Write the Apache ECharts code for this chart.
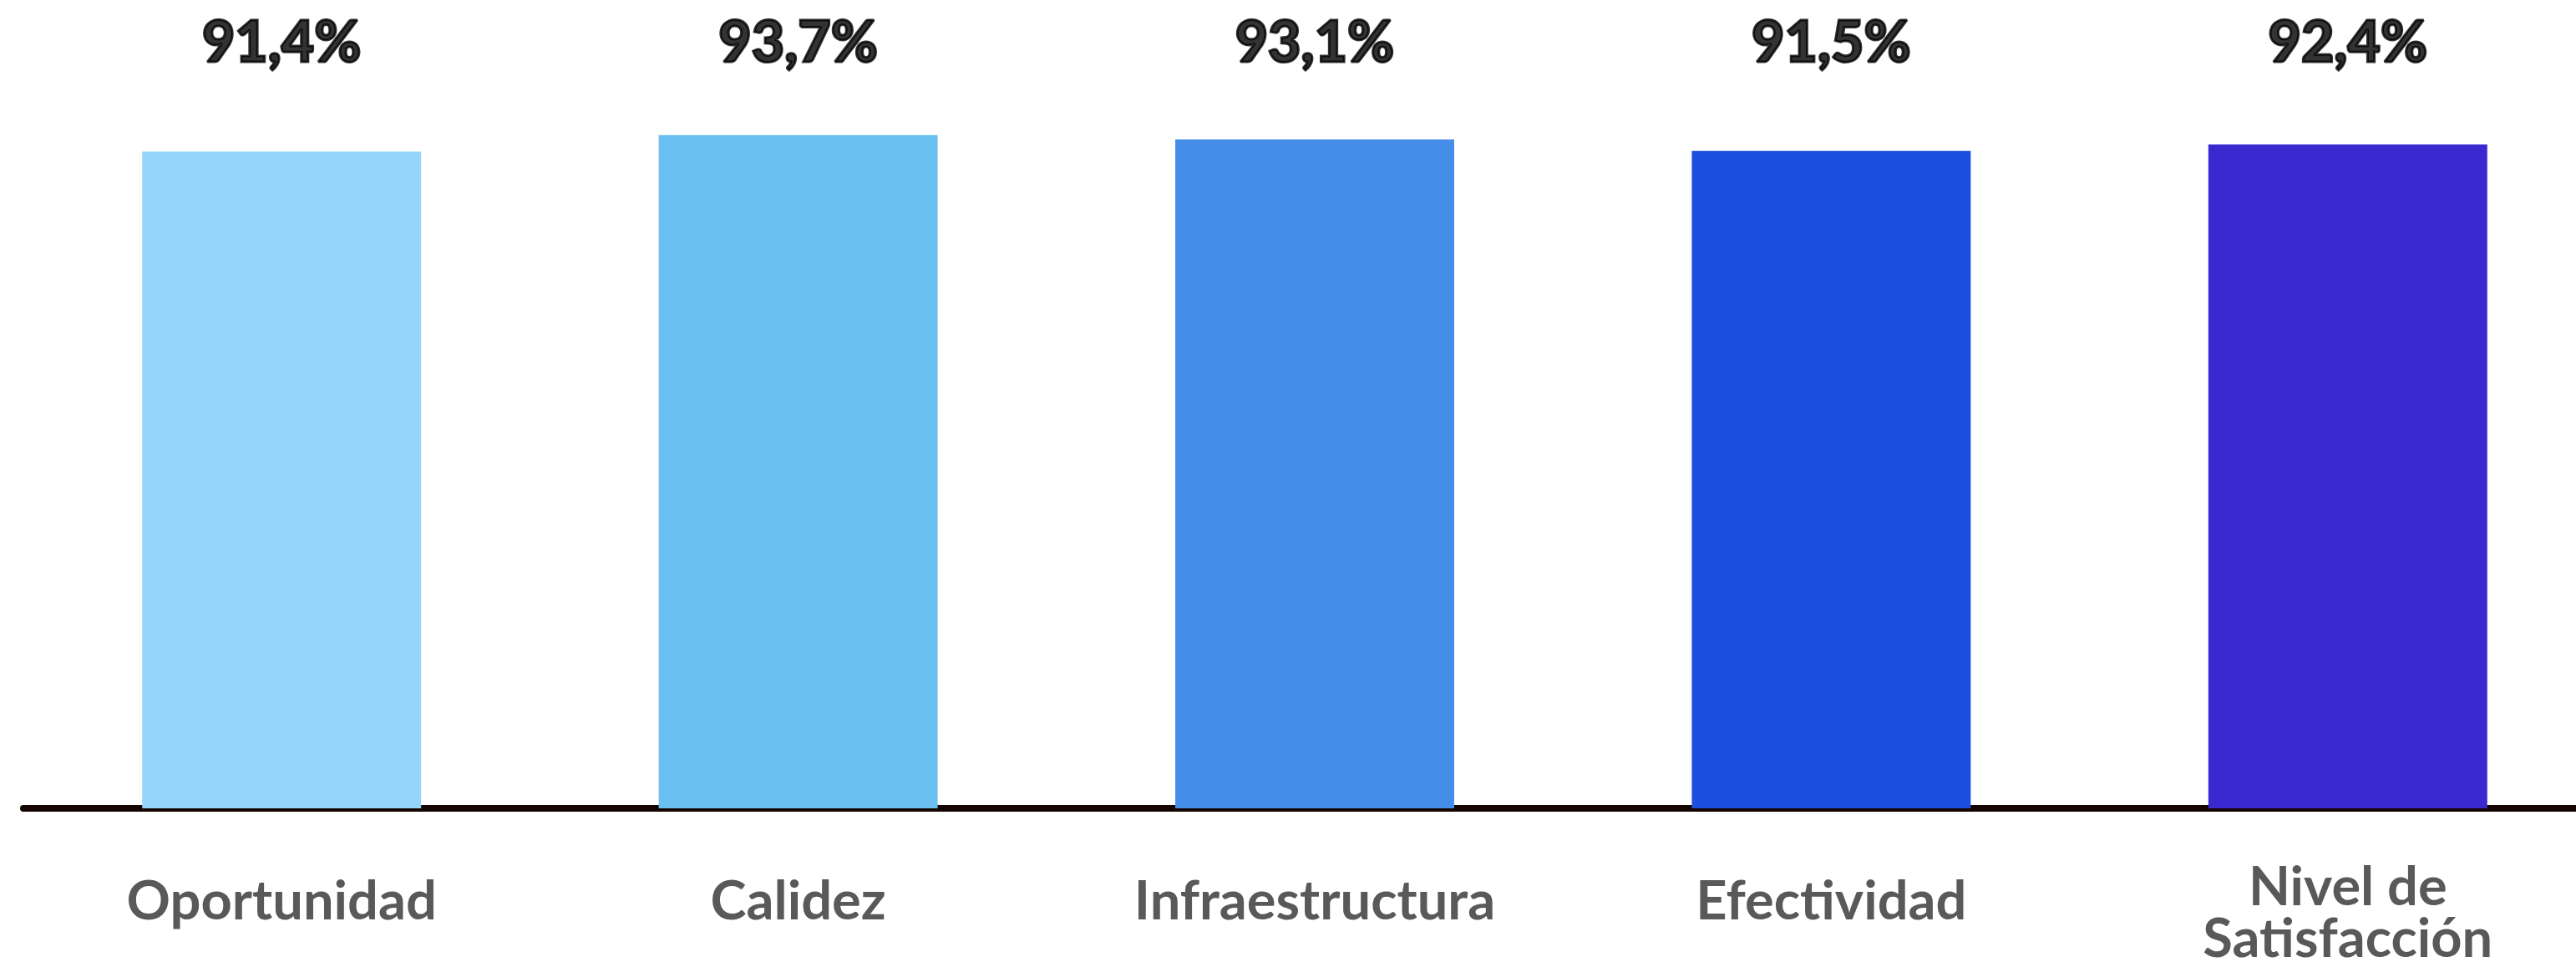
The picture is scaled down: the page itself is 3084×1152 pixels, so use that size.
<!DOCTYPE html>
<html>
<head>
<meta charset="utf-8">
<style>
  html, body { margin: 0; padding: 0; background: #fff; }
  #chart { width: 3084px; height: 1152px; }
</style>
<script src="https://cdn.jsdelivr.net/npm/echarts@6/dist/echarts.min.js"></script>
</head>
<body>
<div id="chart"></div>
<script>
const categories = ['Oportunidad', 'Calidez', 'Infraestructura', 'Efectividad', 'Nivel de\nSatisfacción'];
const values = [91.4, 93.7, 93.1, 91.5, 92.4];
const barColors = ['#94D5F9', '#69C0F1', '#458DE9', '#1D4FDE', '#3B29D0'];
const yMax = 106;

const chart = echarts.init(document.getElementById('chart'));

const option = {
    backgroundColor: '#ffffff',
    animation: false,
    grid: {
        left: 28,
        width: 3092,
        top: 56,
        bottom: 184,
        containLabel: false,
        outerBoundsMode: 'none'
    },
    xAxis: {
        type: 'category',
        data: categories,
        axisLine: {
            show: true,
            lineStyle: { color: '#150500', width: 8, cap: 'round' }
        },
        axisTick: { show: false },
        axisLabel: {
            interval: 0,
            margin: 112,
            verticalAlign: 'middle',
            color: '#595959',
            fontFamily: 'Lato',
            fontWeight: 'bold',
            fontSize: 65,
            lineHeight: 62,
            formatter: function(value) {
                if (value.indexOf('\n') >= 0) {
                    return '{two|' + value.replace('\n', '}\n{two|') + '}';
                }
                return value;
            },
            rich: {
                two: {
                    color: '#595959',
                    fontFamily: 'Lato',
                    fontWeight: 'bold',
                    fontSize: 65,
                    lineHeight: 62,
                    padding: [28, 0, 0, 0]
                }
            }
        }
    },
    yAxis: {
        type: 'value',
        min: 0,
        max: yMax,
        show: false
    },
    series: [{
        name: 'Valor',
        type: 'bar',
        barWidth: '54%',
        data: values.map((v, i) => ({
            value: v,
            itemStyle: { color: barColors[i] }
        })),
        label: { show: false }
    }, {
        name: 'Etiquetas',
        type: 'scatter',
        symbolSize: 0,
        data: values.map((v, i) => [i, yMax]),
        label: {
            show: true,
            position: 'inside',
            offset: [0, -4],
            color: '#000000',
            fontFamily: 'Lato',
            fontWeight: 900,
            fontSize: 68,
            textBorderColor: '#000000',
            textBorderWidth: 3,
            formatter: function(p) {
                return values[p.dataIndex].toFixed(1).replace('.', ',') + '%';
            }
        },
        silent: true
    }]
};

chart.setOption(option);
</script>
</body>
</html>
